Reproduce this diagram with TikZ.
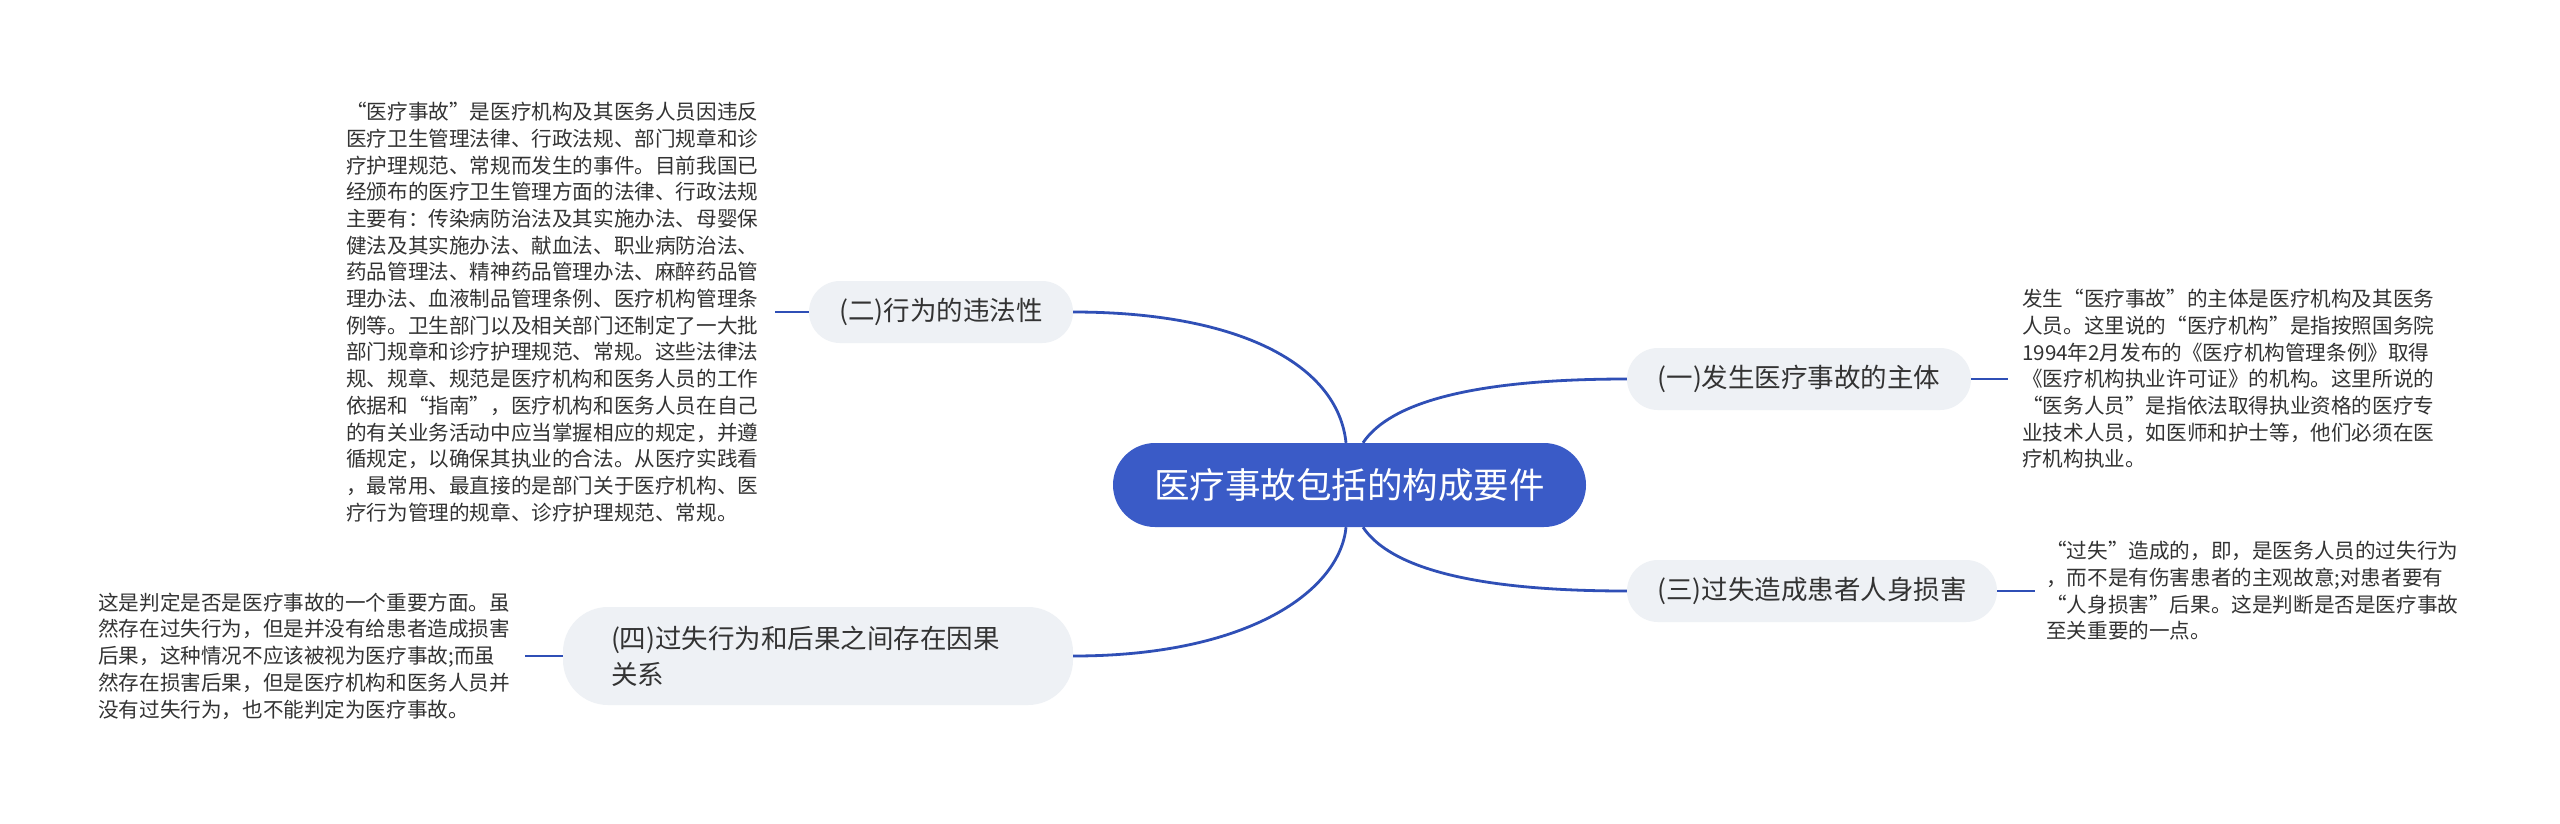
\documentclass[tikz,border=0pt]{standalone}
\usepackage{fontspec}
\setmainfont{Noto Sans CJK SC}
\definecolor{mainblue}{HTML}{3A5BC7}
\definecolor{linkblue}{HTML}{2F4FB6}
\definecolor{subfill}{HTML}{EEF1F5}
\definecolor{txt}{HTML}{333333}
\begin{document}
\begin{tikzpicture}[x=1pt,y=-1pt,
 root/.style={fill=mainblue, text=white, rounded corners=42pt, minimum width=473pt, minimum height=84pt, inner sep=0pt, font=\fontsize{35.5}{40}\selectfont},
 sub/.style={fill=subfill, text=txt, rounded corners=31pt, minimum height=62pt, inner sep=0pt, font=\fontsize{26.5}{36}\selectfont},
 leaf/.style={text=txt, align=left, inner sep=0pt, anchor=west, font=\fontsize{20.6}{26.7}\selectfont},
 link/.style={draw=linkblue, line width=2.8pt},
]
\useasboundingbox[fill=white] (0,0) rectangle (2560,823);

\node[root] (c) at (1349.5,485) {医疗事故包括的构成要件};
\node[sub, minimum width=264pt] (n2) at (941,312) {(二)行为的违法性};
\node[sub, minimum width=344pt] (n1) at (1799,379) {(一)发生医疗事故的主体};
\node[sub, minimum width=370pt] (n3) at (1812,591) {(三)过失造成患者人身损害};
\node[sub, minimum width=510pt, minimum height=98pt, rounded corners=45pt, align=left, text width=414pt] (n4) at (818,656) {(四)过失行为和后果之间存在因果\\关系};

\node[leaf] (l2) at (346,312) {“医疗事故”是医疗机构及其医务人员因违反\\医疗卫生管理法律、行政法规、部门规章和诊\\疗护理规范、常规而发生的事件。目前我国已\\经颁布的医疗卫生管理方面的法律、行政法规\\主要有：传染病防治法及其实施办法、母婴保\\健法及其实施办法、献血法、职业病防治法、\\药品管理法、精神药品管理办法、麻醉药品管\\理办法、血液制品管理条例、医疗机构管理条\\例等。卫生部门以及相关部门还制定了一大批\\部门规章和诊疗护理规范、常规。这些法律法\\规、规章、规范是医疗机构和医务人员的工作\\依据和“指南”，医疗机构和医务人员在自己\\的有关业务活动中应当掌握相应的规定，并遵\\循规定，以确保其执业的合法。从医疗实践看\\，最常用、最直接的是部门关于医疗机构、医\\疗行为管理的规章、诊疗护理规范、常规。};
\node[leaf] (l1) at (2022,379) {发生“医疗事故”的主体是医疗机构及其医务\\人员。这里说的“医疗机构”是指按照国务院\\1994年2月发布的《医疗机构管理条例》取得\\《医疗机构执业许可证》的机构。这里所说的\\“医务人员”是指依法取得执业资格的医疗专\\业技术人员，如医师和护士等，他们必须在医\\疗机构执业。};
\node[leaf] (l3) at (2046,591) {“过失”造成的，即，是医务人员的过失行为\\，而不是有伤害患者的主观故意;对患者要有\\“人身损害”后果。这是判断是否是医疗事故\\至关重要的一点。};
\node[leaf] (l4) at (98,656) {这是判定是否是医疗事故的一个重要方面。虽\\然存在过失行为，但是并没有给患者造成损害\\后果，这种情况不应该被视为医疗事故;而虽\\然存在损害后果，但是医疗机构和医务人员并\\没有过失行为，也不能判定为医疗事故。};

\coordinate (k2) at (775,312);
\coordinate (k1) at (2008,379);
\coordinate (k3) at (2035,591);
\coordinate (k4) at (525,656);

\draw[link] (n2.east) .. controls (1240,312) and (1338,365) .. ([xshift=-3.5pt]c.north);
\draw[link] ([xshift=13.5pt]c.north) .. controls (1385,410) and (1450,379) .. (n1.west);
\draw[link] ([xshift=13.5pt]c.south) .. controls (1385,560) and (1450,591) .. (n3.west);
\draw[link] ([xshift=-3.5pt]c.south) .. controls (1340,590) and (1250,656) .. (n4.east);

\draw[link] (n2.west) -- (k2);
\draw[link] (n1.east) -- (k1);
\draw[link] (n3.east) -- (k3);
\draw[link] (n4.west) -- (k4);
\end{tikzpicture}
\end{document}
